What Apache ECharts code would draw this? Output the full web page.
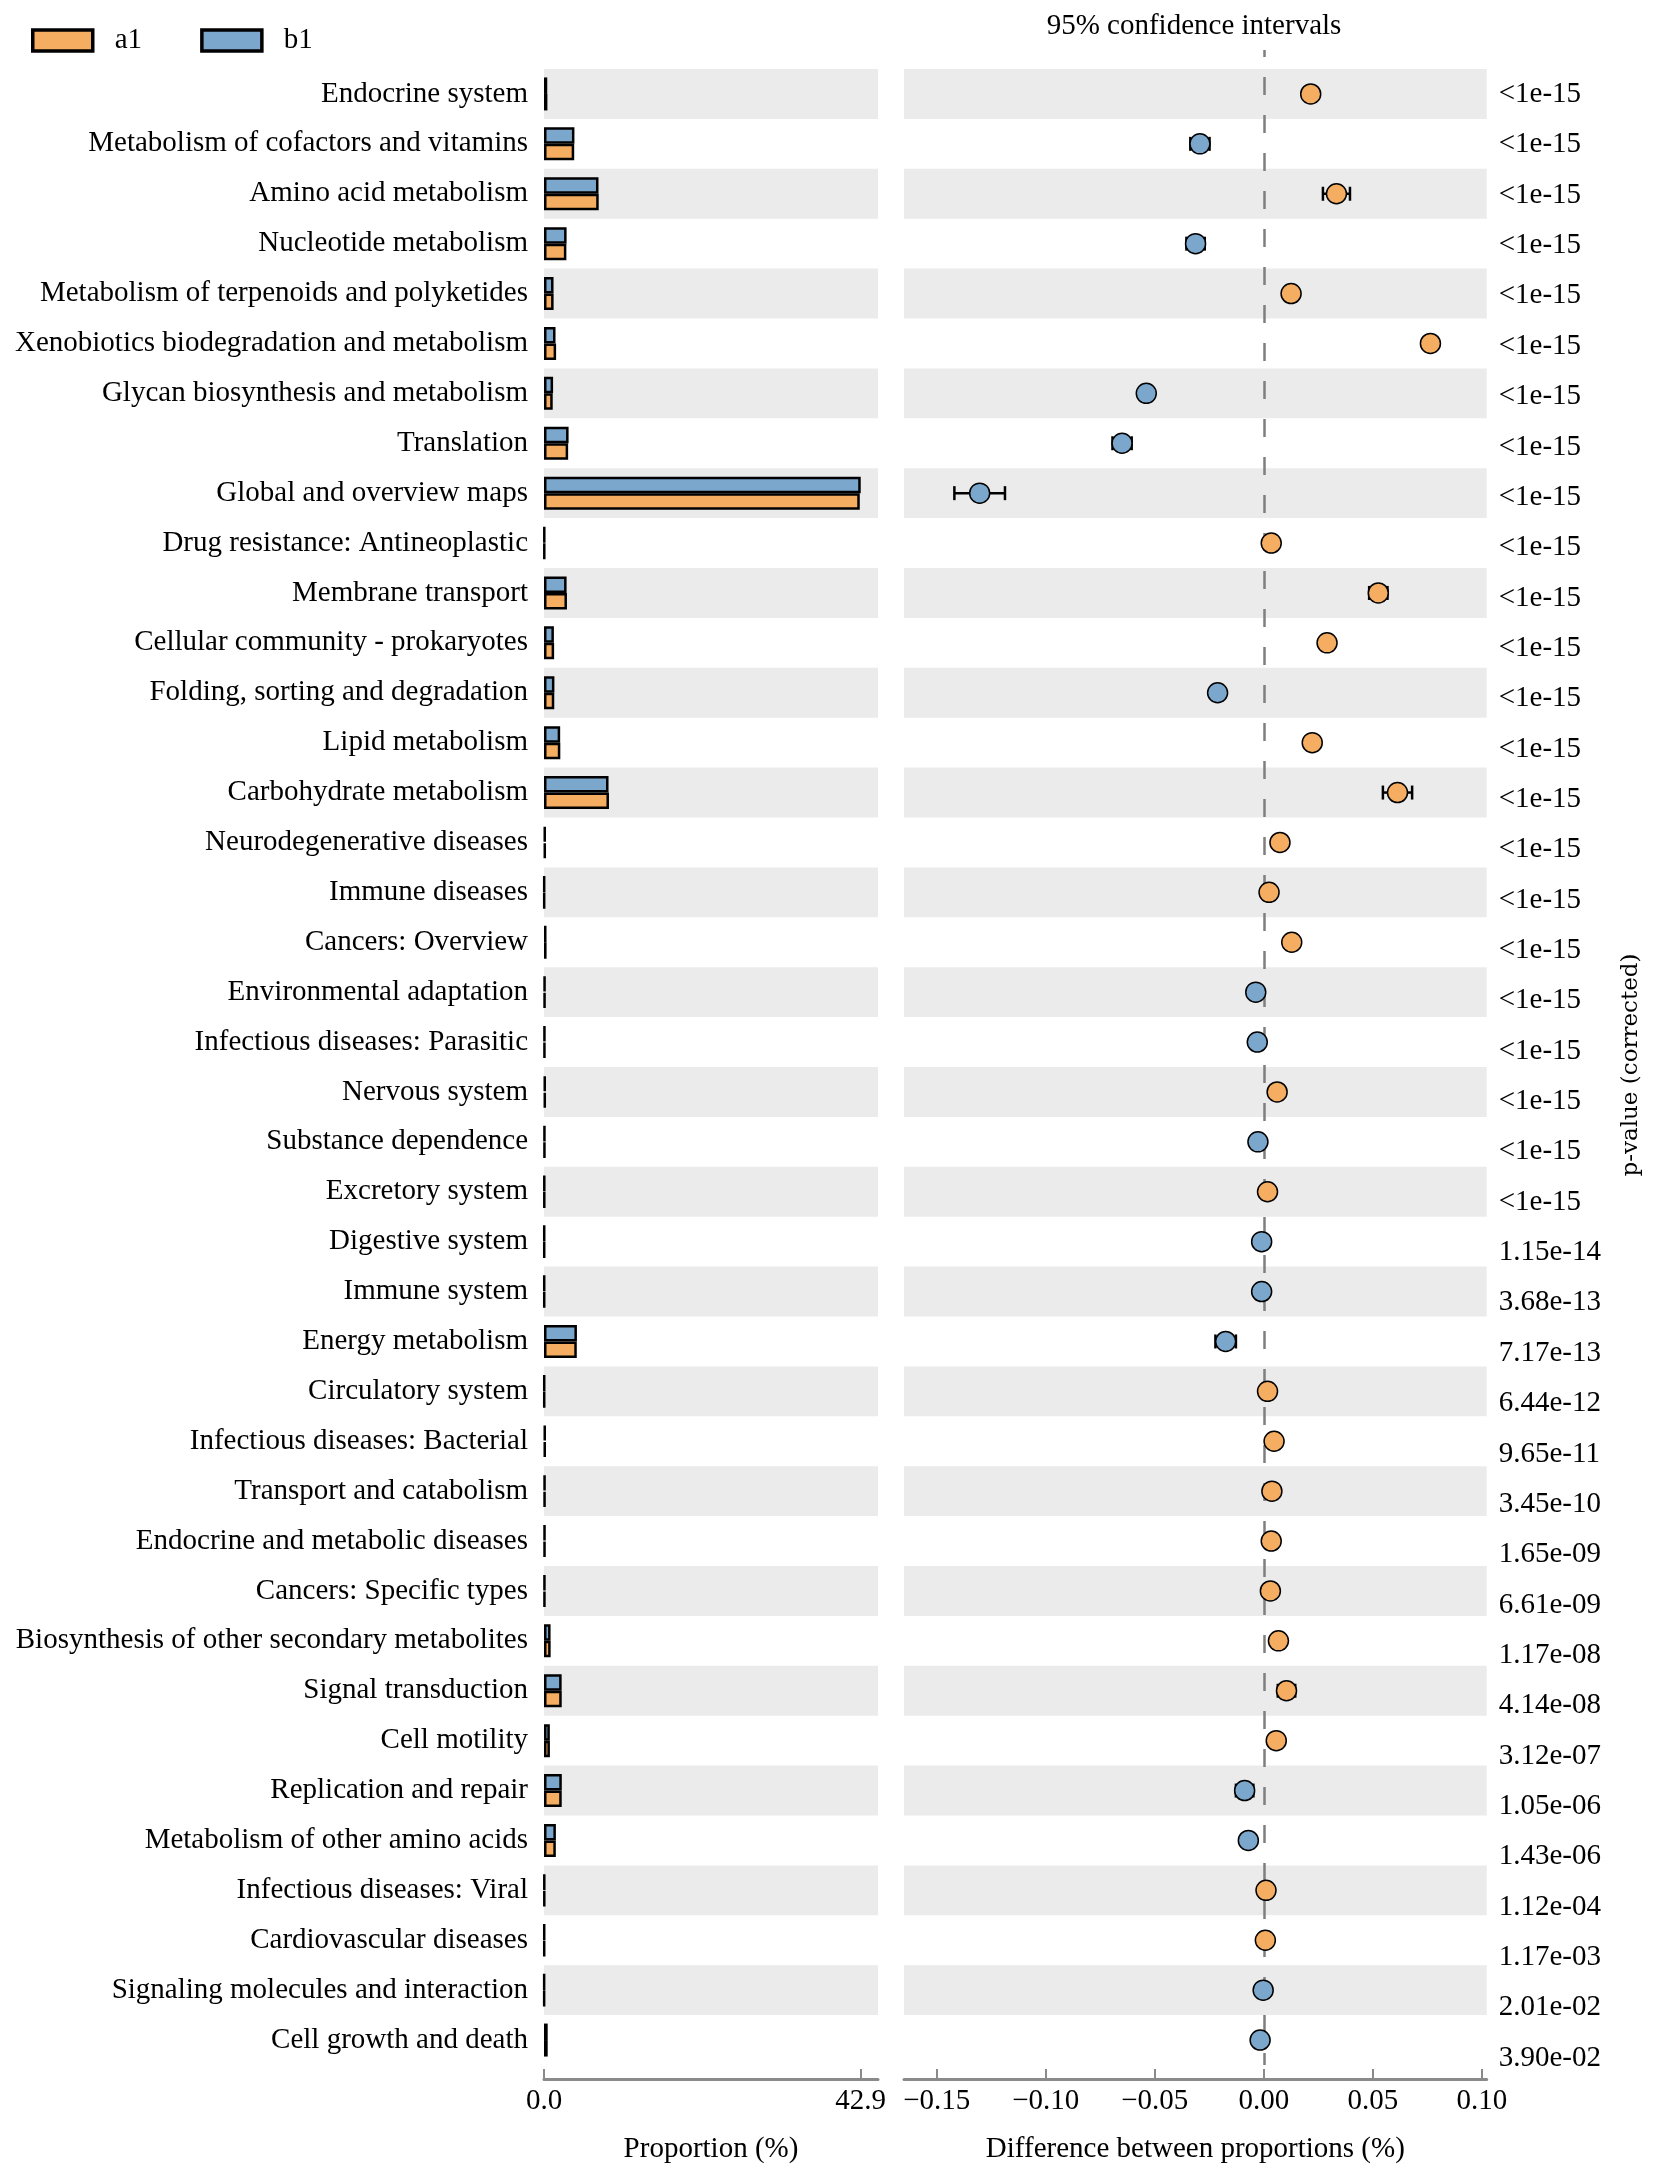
<!DOCTYPE html>
<html><head><meta charset="utf-8">
<script src="https://cdn.jsdelivr.net/npm/echarts@6/dist/echarts.min.js"></script>
<style>html,body{margin:0;padding:0;background:#fff}#c{width:1653px;height:2170px}</style>
</head><body><div id="c"></div>
<script>
const categories = [
  "Endocrine system","Metabolism of cofactors and vitamins","Amino acid metabolism","Nucleotide metabolism",
  "Metabolism of terpenoids and polyketides","Xenobiotics biodegradation and metabolism","Glycan biosynthesis and metabolism",
  "Translation","Global and overview maps","Drug resistance: Antineoplastic","Membrane transport",
  "Cellular community - prokaryotes","Folding, sorting and degradation","Lipid metabolism","Carbohydrate metabolism",
  "Neurodegenerative diseases","Immune diseases","Cancers: Overview","Environmental adaptation",
  "Infectious diseases: Parasitic","Nervous system","Substance dependence","Excretory system","Digestive system",
  "Immune system","Energy metabolism","Circulatory system","Infectious diseases: Bacterial","Transport and catabolism",
  "Endocrine and metabolic diseases","Cancers: Specific types","Biosynthesis of other secondary metabolites",
  "Signal transduction","Cell motility","Replication and repair","Metabolism of other amino acids",
  "Infectious diseases: Viral","Cardiovascular diseases","Signaling molecules and interaction","Cell growth and death"
];
const b1 = [0.44,4.12,7.38,3.06,1.29,1.56,1.23,3.33,42.90,0.08,3.06,1.34,1.41,2.19,8.74,0.20,0.05,0.34,0.15,0.12,
  0.20,0.12,0.08,0.06,0.06,4.46,0.06,0.20,0.15,0.14,0.12,0.89,2.39,0.79,2.41,1.61,0.08,0.06,0.04,0.50];
const a1 = [0.46,4.09,7.41,3.03,1.30,1.64,1.18,3.27,42.77,0.08,3.11,1.37,1.39,2.21,8.80,0.21,0.05,0.35,0.15,0.12,
  0.21,0.12,0.08,0.06,0.06,4.44,0.06,0.20,0.15,0.14,0.12,0.90,2.40,0.80,2.40,1.60,0.08,0.06,0.04,0.50];
const diff = [0.0215,-0.0293,0.0333,-0.0313,0.0125,0.0764,-0.0539,-0.0650,-0.1303,0.0034,0.0525,0.0290,-0.0212,0.0222,
  0.0613,0.0074,0.0024,0.0128,-0.0037,-0.0030,0.0061,-0.0027,0.0017,-0.0010,-0.0010,-0.0175,0.0017,0.0047,0.0037,
  0.0034,0.0030,0.0067,0.0104,0.0057,-0.0088,-0.0071,0.0010,0.0007,-0.0003,-0.0017];
const ciLow = [0.0190,-0.0337,0.0271,-0.0355,0.0100,0.0734,-0.0569,-0.0694,-0.1419,0.0024,0.0483,0.0265,-0.0237,0.0197,
  0.0546,0.0062,0.0016,0.0113,-0.0047,-0.0040,0.0049,-0.0037,0.0009,-0.0016,-0.0016,-0.0222,0.0011,0.0035,0.0027,
  0.0024,0.0020,0.0052,0.0064,0.0042,-0.0128,-0.0101,0.0002,0.0001,-0.0008,-0.0032];
const ciHigh = [0.0240,-0.0249,0.0395,-0.0271,0.0150,0.0794,-0.0509,-0.0606,-0.1187,0.0044,0.0567,0.0315,-0.0187,0.0247,
  0.0680,0.0086,0.0032,0.0143,-0.0027,-0.0020,0.0073,-0.0017,0.0025,-0.0004,-0.0004,-0.0128,0.0023,0.0059,0.0047,
  0.0044,0.0040,0.0082,0.0144,0.0072,-0.0048,-0.0041,0.0018,0.0013,0.0002,-0.0002];
const pValues = ["<1e-15","<1e-15","<1e-15","<1e-15","<1e-15","<1e-15","<1e-15","<1e-15","<1e-15","<1e-15",
  "<1e-15","<1e-15","<1e-15","<1e-15","<1e-15","<1e-15","<1e-15","<1e-15","<1e-15","<1e-15","<1e-15","<1e-15","<1e-15",
  "1.15e-14","3.68e-13","7.17e-13","6.44e-12","9.65e-11","3.45e-10","1.65e-09","6.61e-09","1.17e-08","4.14e-08",
  "3.12e-07","1.05e-06","1.43e-06","1.12e-04","1.17e-03","2.01e-02","3.90e-02"];
const propTicks = [0, 42.9];
const diffTicks = [-0.15, -0.10, -0.05, 0.00, 0.05, 0.10];

const FONT = 'Liberation Serif';
const ORANGE = '#F5AD61', BLUE = '#7BA7CD', BAND = '#EBEBEB', AXIS = '#8A8A8A';
const txt = {fontFamily: FONT, fontSize: 29, color: '#000'};

const chart = echarts.init(document.getElementById('c'));
const errData = categories.map((c, i) => [i, ciLow[i], ciHigh[i]]);
const ptData = categories.map((c, i) => [diff[i], i]);

const option = {
  animation: false,
  backgroundColor: '#fff',
  textStyle: {fontFamily: FONT},
  legend: {
    data: ['a1', 'b1'], left: 31, top: 26, padding: 0, itemWidth: 60, itemHeight: 21, itemGap: 58, icon: 'rect',
    itemStyle: {borderColor: '#000', borderWidth: 3.5},
    textStyle: Object.assign({}, txt, {padding: [0, 0, 0, 17]})
  },
  grid: [
    {left: 544, top: 69, width: 334, height: 1996},
    {left: 904, top: 69, width: 582.7, height: 1996},
    {left: 1480, top: 69.3, width: 6.7, height: 2014}
  ],
  xAxis: [
    {gridIndex: 0, type: 'value', min: 0, max: 45.24, offset: 14,
      axisLine: {show: true, lineStyle: {color: AXIS, width: 3}},
      axisTick: {show: true, inside: true, length: 10, customValues: propTicks, lineStyle: {color: AXIS, width: 2}},
      axisLabel: Object.assign({customValues: propTicks, formatter: v => Number(v).toFixed(1), margin: 8}, txt),
      splitLine: {show: false},
      name: 'Proportion (%)', nameLocation: 'middle', nameGap: 56, nameTextStyle: txt},
    {gridIndex: 1, type: 'value', min: -0.165, max: 0.1022, offset: 14,
      axisLine: {show: true, lineStyle: {color: AXIS, width: 3}},
      axisTick: {show: true, inside: true, length: 10, customValues: diffTicks, lineStyle: {color: AXIS, width: 2}},
      axisLabel: Object.assign({customValues: diffTicks, margin: 8,
        formatter: v => (v < -1e-9 ? '\u2212' : '') + Math.abs(v).toFixed(2)}, txt),
      splitLine: {show: false},
      name: 'Difference between proportions (%)', nameLocation: 'middle', nameGap: 56, nameTextStyle: txt},
    {gridIndex: 2, type: 'value', show: false}
  ],
  yAxis: [
    {gridIndex: 0, type: 'category', data: categories, inverse: true,
      axisLine: {show: false}, axisTick: {show: false},
      axisLabel: Object.assign({interval: 0, margin: 16}, txt),
      splitArea: {show: true, interval: 0, areaStyle: {color: [BAND, 'rgba(255,255,255,0)']}}},
    {gridIndex: 1, type: 'category', data: categories, inverse: true,
      axisLine: {show: false}, axisTick: {show: false}, axisLabel: {show: false, interval: 0},
      splitArea: {show: true, interval: 0, areaStyle: {color: [BAND, 'rgba(255,255,255,0)']}}},
    {gridIndex: 2, type: 'category', data: pValues, inverse: true, position: 'right',
      axisLine: {show: false}, axisTick: {show: false},
      axisLabel: Object.assign({interval: 0, margin: 12}, txt)}
  ],
  series: [
    {name: 'b1', type: 'bar', xAxisIndex: 0, yAxisIndex: 0, data: b1, barWidth: 16.5, barGap: '0%',
      itemStyle: {color: BLUE, borderColor: '#000', borderWidth: 2.5}},
    {name: 'a1', type: 'bar', xAxisIndex: 0, yAxisIndex: 0, data: a1, barWidth: 16.5, barGap: '0%',
      itemStyle: {color: ORANGE, borderColor: '#000', borderWidth: 2.5}},
    {name: 'ci', type: 'custom', xAxisIndex: 1, yAxisIndex: 1, data: errData, z: 4,
      encode: {x: [1, 2], y: 0},
      renderItem: function (params, api) {
        const y = api.value(0);
        const lo = api.coord([api.value(1), y]);
        const hi = api.coord([api.value(2), y]);
        const h = 7;
        const st = {stroke: '#000', lineWidth: 2.5};
        return {type: 'group', children: [
          {type: 'line', shape: {x1: lo[0], y1: lo[1], x2: hi[0], y2: hi[1]}, style: st},
          {type: 'line', shape: {x1: lo[0], y1: lo[1] - h, x2: lo[0], y2: lo[1] + h}, style: st},
          {type: 'line', shape: {x1: hi[0], y1: hi[1] - h, x2: hi[0], y2: hi[1] + h}, style: st}
        ]};
      }},
    {name: 'diff', type: 'scatter', xAxisIndex: 1, yAxisIndex: 1, data: ptData, z: 10,
      symbol: 'circle', symbolSize: 20,
      itemStyle: {color: p => (p.value[0] > 0 ? ORANGE : BLUE), borderColor: '#000', borderWidth: 1.5, opacity: 1},
      markLine: {silent: true, z: 2, symbol: ['none', 'none'], label: {show: false},
        lineStyle: {color: '#7F7F7F', width: 2.5, type: [18, 20], dashOffset: 11},
        data: [[{xAxis: 0, y: 50}, {xAxis: 0, y: 2065}]]}}
  ],
  graphic: [
    {type: 'text', x: 1194, y: 26, z: 100,
      style: {text: '95% confidence intervals', fontSize: 29, fontFamily: FONT, fill: '#000',
        align: 'center', verticalAlign: 'middle', textAlign: 'center', textVerticalAlign: 'middle'}},
    {type: 'text', x: 1631, y: 1065, rotation: Math.PI / 2, z: 100,
      style: {text: 'p-value (corrected)', fontSize: 23, fontFamily: 'DejaVu Serif', fill: '#000',
        align: 'center', verticalAlign: 'middle', textAlign: 'center', textVerticalAlign: 'middle'}}
  ]
};
chart.setOption(option);
</script>
</body></html>
